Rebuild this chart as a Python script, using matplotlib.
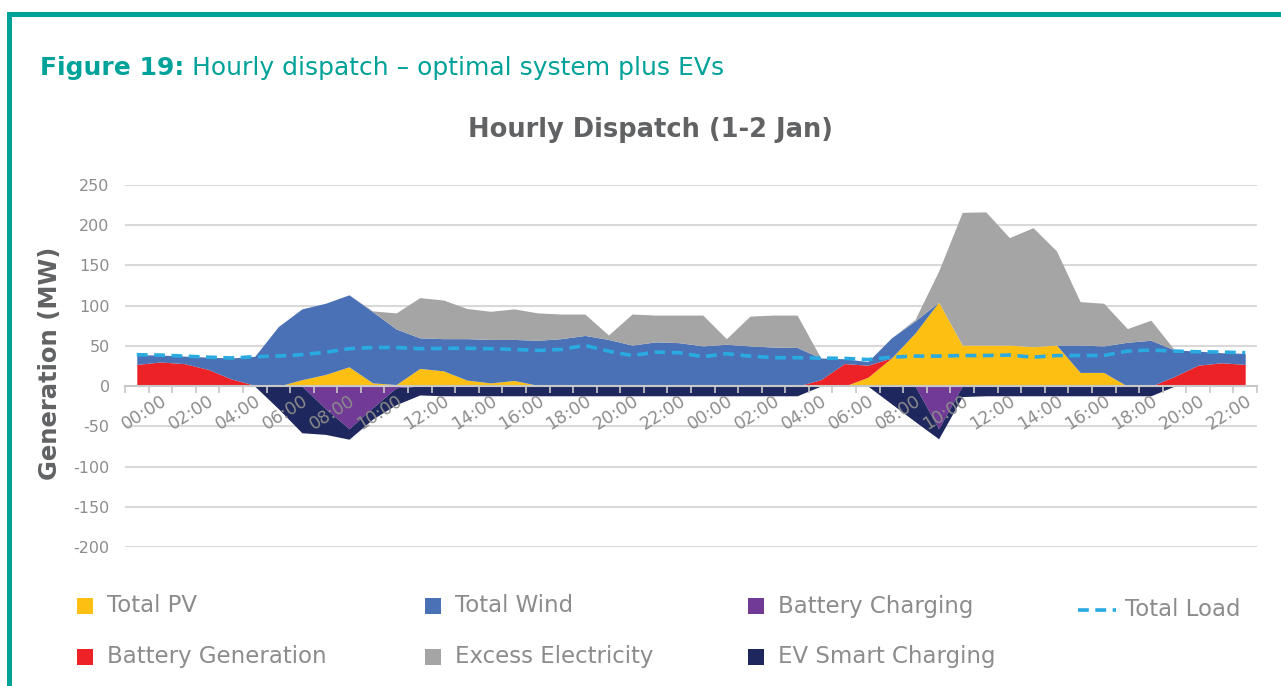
import matplotlib
matplotlib.use('Agg')
import matplotlib.pyplot as plt
from matplotlib.patches import Rectangle
from matplotlib.lines import Line2D
import numpy as np

# hourly data for 1-2 Jan (48 hours)
tick_labels = ['%02d:00' % h for h in range(0, 24, 2)] * 2

pv = [0, 0, 0, 0, 0, 0, 0, 8, 14.5, 24, 4, 2, 22, 19, 7.5, 4, 7, 1, 0, 0, 0, 0, 0, 0,
      0, 0, 0, 0, 0, 0, 0, 11, 35, 66, 104.5, 51, 51, 51, 49, 51, 17, 17, 0, 0, 0, 0, 0, 0]
battery_gen = [27, 30, 28, 21, 9, 1, 0, 0, 0, 0, 0, 0, 0, 0, 0, 0, 0, 0, 0, 0, 0, 0, 0, 0,
               0, 0, 0, 0, 0, 8, 28, 15, 0, 0, 0, 0, 0, 0, 0, 0, 0, 0, 0, 0, 12, 26, 29, 27]
wind = [12, 8.6, 9.3, 15, 26, 36, 74, 88, 88.5, 89.5, 88.5, 69, 38, 40, 51.5, 54, 51, 56, 59, 63, 58, 51, 55, 54,
        50, 52, 50, 48.5, 48, 27, 6, 4.5, 25, 15, 0, 0, 0, 0, 0, 0, 34, 33, 54.5, 57, 33, 17.5, 12.5, 13.7]
excess = [0, 0, 0, 0, 0, 0, 0, 0, 0, 0, 1, 20, 50, 48, 37.5, 35, 38, 34, 30.6, 26.6, 5.5, 38.6, 33.3, 34.3,
          38.3, 7, 37, 39.8, 40.3, 0, 0, 0, 0, 2, 38.5, 165, 165.6, 133.6, 148, 117, 54, 53, 17, 25, 0, 0, 0, 0]
battery_charging = [0, 0, 0, 0, 0, 0, 0, 0, -28, -53, -27, -2, 0, 0, 0, 0, 0, 0, 0, 0, 0, 0, 0, 0,
                    0, 0, 0, 0, 0, 0, 0, 0, 0, 0, -53, 0, 0, 0, 0, 0, 0, 0, 0, 0, 0, 0, 0, 0]
ev_charging = [0, 0, 0, 0, 0, 0, -28, -58, -32, -13, -14, -21, -11, -12, -12, -12, -12, -12, -12, -12, -12, -12, -12, -12,
               -12, -12, -12, -12, -12, 0, 0, 0, -22, -44, -12.5, -13, -12, -12, -12, -12, -12, -12, -12, -12, 0, 0, 0, 0]
total_load = [39, 38.6, 37.3, 36, 35, 36.5, 37.5, 39, 42, 46.5, 48, 48, 46.5, 47, 47, 46.5, 45.6, 44.4, 45.6, 50.6, 43.5, 38, 42.3, 41.5,
              36.5, 40.3, 37.3, 35.3, 35.3, 34.8, 34.5, 33, 36, 37.3, 37.3, 38, 38, 38.6, 36, 38, 38, 38, 43.5, 44.8, 43.5, 42.7, 42.3, 41.5]

# colours
c_pv = '#FCBF12'
c_wind = '#4A71B6'
c_bc = '#713A96'
c_load = '#29ABE2'
c_bg = '#EC2227'
c_ex = '#A5A5A5'
c_ev = '#1F285E'
teal = '#00A29A'
txt_gray = '#8C8C8C'
title_gray = '#616264'

plt.rcParams['font.family'] = ['DejaVu Sans']
plt.rcParams['axes.unicode_minus'] = False

W, H = 1281, 686
fig = plt.figure(figsize=(W / 100, H / 100), dpi=100)

# page frame
fig.add_artist(Rectangle((7 / W, 0), 5 / W, (H - 12) / H, transform=fig.transFigure, color=teal, lw=0))
fig.add_artist(Rectangle((7 / W, 1 - 17 / H), 1, 5 / H, transform=fig.transFigure, color=teal, lw=0))

ax = fig.add_axes([125 / W, 139 / H, 1132 / W, 362 / H])
x = np.arange(len(pv))

# positive stack
s1 = np.array(pv)
s2 = s1 + np.array(battery_gen)
s3 = s2 + np.array(wind)
s4 = s3 + np.array(excess)
ax.fill_between(x, 0, s1, color=c_pv, lw=0, zorder=1)
ax.fill_between(x, s1, s2, color=c_bg, lw=0, zorder=1)
ax.fill_between(x, s2, s3, color=c_wind, lw=0, zorder=1)
ax.fill_between(x, s3, s4, color=c_ex, lw=0, zorder=1)

# negative stack
n1 = np.array(battery_charging)
n2 = n1 + np.array(ev_charging)
ax.fill_between(x, 0, n1, color=c_bc, lw=0, zorder=1)
ax.fill_between(x, n1, n2, color=c_ev, lw=0, zorder=1)

ax.plot(x, total_load, color=c_load, lw=2.6, ls=(0, (3, 1.8)), zorder=3)

ax.set_xlim(-0.5, len(pv) - 0.5)
ax.set_ylim(-200, 250)
yt = np.arange(-200, 251, 50)
for v in yt:
    if v != 0:
        ax.axhline(v, color='#D9D9D9', lw=1.5, zorder=0)

for s in ['top', 'right', 'left']:
    ax.spines[s].set_visible(False)
ax.spines['bottom'].set_position(('data', 0))
ax.spines['bottom'].set_color('#C8C8C8')
ax.spines['bottom'].set_linewidth(1.5)
ax.spines['bottom'].set_zorder(2.5)

ax.set_yticks(yt)
ax.tick_params(axis='y', length=0, pad=11, labelsize=11.5, labelcolor=txt_gray)
ax.set_xticks(np.arange(1, len(pv), 2))
ax.set_xticklabels(tick_labels, rotation=32, ha='right', va='top', rotation_mode='anchor')
ax.set_xticks(np.arange(-0.5, len(pv), 1), minor=True)
ax.tick_params(axis='x', which='major', length=0, pad=4, labelsize=12.5, labelcolor=txt_gray)
ax.tick_params(axis='x', which='minor', length=5, width=1.2, color='#C8C8C8')

# titles
fig.text(50 / W, 1 - 363 / H, 'Generation (MW)', rotation=90, fontsize=17.5, weight='bold',
         color=title_gray, ha='center', va='center')
fig.text(651 / W, 1 - 130 / H, 'Hourly Dispatch (1-2 Jan)', fontsize=18.5, weight='bold',
         color=title_gray, ha='center', va='center')
t1 = fig.text(40 / W, 1 - 75 / H, 'Figure 19:', fontsize=18, weight='bold', color=teal,
              ha='left', va='baseline')
r = fig.canvas.get_renderer()
bb = t1.get_window_extent(r)
fig.text((bb.x1 + 8) / W, 1 - 75 / H, 'Hourly dispatch \u2013 optimal system plus EVs', fontsize=18,
         color=teal, ha='left', va='baseline')

# legend
legend_items = [(77, 606, 'Total PV', c_pv), (425, 606, 'Total Wind', c_wind),
                (748, 606, 'Battery Charging', c_bc), (77, 657, 'Battery Generation', c_bg),
                (425, 657, 'Excess Electricity', c_ex), (748, 657, 'EV Smart Charging', c_ev)]
for lx, ly, label, col in legend_items:
    fig.add_artist(Rectangle((lx / W, 1 - (ly + 8) / H), 16 / W, 16 / H, transform=fig.transFigure,
                             color=col, lw=0))
    fig.text((lx + 30) / W, 1 - ly / H, label, fontsize=16.5, color=txt_gray, ha='left', va='center')
fig.add_artist(Line2D([1078 / W, 1116 / W], [1 - 610 / H, 1 - 610 / H], transform=fig.transFigure,
                      color=c_load, lw=2.6, ls=(0, (3, 1.8))))
fig.text(1125 / W, 1 - 610 / H, 'Total Load', fontsize=16.5, color=txt_gray, ha='left', va='center')

fig.savefig('out.png', dpi=100)
